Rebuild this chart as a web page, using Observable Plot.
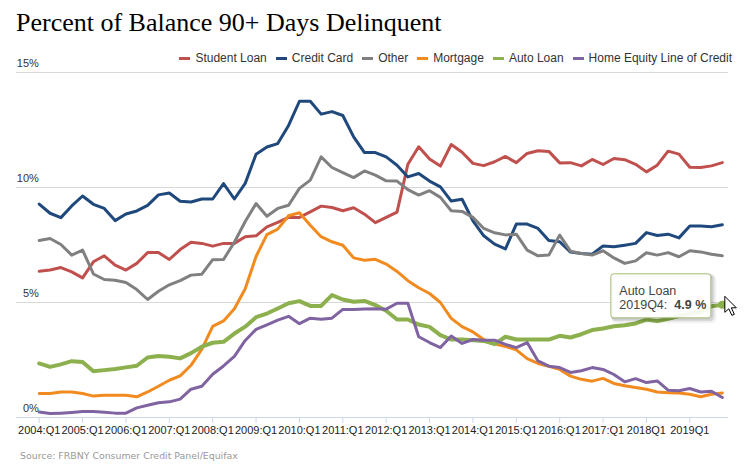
<!DOCTYPE html>
<html><head><meta charset="utf-8">
<script src="https://cdn.jsdelivr.net/npm/d3@7"></script>
<script src="https://cdn.jsdelivr.net/npm/@observablehq/plot@0.6"></script>
<style>
body{margin:0;background:#fff;}
#wrap{position:relative;width:748px;height:473px;overflow:hidden;font-family:"Liberation Sans",Arial,sans-serif;}
#title{position:absolute;left:16px;top:8px;font-family:"Liberation Serif",serif;font-size:26px;line-height:normal;color:#000;white-space:nowrap;}
#legend{position:absolute;top:48px;right:16px;height:20px;display:flex;align-items:center;gap:9px;font-size:12px;color:#333;white-space:nowrap;}
.item{display:flex;align-items:center;}
.sym{width:11px;height:3px;margin-right:5px;}
#chart{position:absolute;left:0;top:66px;}
#source{position:absolute;left:20px;top:450px;font-family:"DejaVu Sans",sans-serif;font-size:9.4px;color:#999;white-space:nowrap;}
</style></head>
<body>
<div id="wrap">
  <div id="title">Percent of Balance 90+ Days Delinquent</div>
  <div id="legend"></div>
  <div id="chart"></div>
  <div id="source">Source: FRBNY Consumer Credit Panel/Equifax</div>
</div>
<script>
// ---- data ----
const quarters = [];
for (let y = 2004; y <= 2019; y++) for (let q = 1; q <= 4; q++) quarters.push(y + "Q" + q);

const tickIndex = [0,4,8,12,16,20,24,28,32,36,40,44,48,52,56,60];
const tickLabels = ["2004:Q1","2005:Q1","2006:Q1","2007:Q1","2008:Q1","2009:Q1","2010:Q1","2011:Q1","2012:Q1","2013:Q1","2014:Q1","2015:Q1","2016:Q1","2017:Q1","2018Q1","2019Q1"];
const yTicks = [0,5,10,15];

const seriesNames = ["Student Loan","Credit Card","Other","Mortgage","Auto Loan","Home Equity Line of Credit"];
const seriesColors = ["#c0504d","#1f497d","#808080","#f28b1f","#8db04f","#8064a2"];

const studentLoan = [6.36,6.41,6.52,6.33,6.07,6.77,7.03,6.62,6.41,6.70,
  7.17,7.17,6.87,7.30,7.62,7.57,7.45,7.57,7.57,7.86,
  7.90,8.29,8.48,8.70,8.70,8.94,9.19,9.13,8.99,9.12,
  8.84,8.47,8.70,8.93,11.01,11.77,11.24,10.93,11.87,11.53,
  11.05,10.95,11.12,11.35,11.08,11.48,11.60,11.57,11.07,11.08,
  10.94,11.22,11.00,11.26,11.21,11.01,10.68,10.97,11.58,11.45,
  10.88,10.87,10.94,11.08];
const creditCard = [9.28,8.88,8.69,9.20,9.63,9.27,9.09,8.56,8.85,8.98,
  9.22,9.68,9.76,9.40,9.37,9.50,9.50,10.17,9.50,10.18,
  11.45,11.76,11.91,12.70,13.75,13.75,13.19,13.30,13.13,12.20,
  11.52,11.52,11.33,10.97,10.46,10.61,10.28,10.03,9.41,9.49,
  8.55,7.90,7.54,7.33,8.41,8.41,8.22,7.70,7.64,7.19,
  7.13,7.10,7.46,7.42,7.49,7.57,8.04,7.91,7.97,7.81,
  8.33,8.33,8.29,8.38];
const other = [7.70,7.78,7.52,7.06,7.28,6.24,6.00,5.97,5.87,5.56,
  5.13,5.49,5.77,5.95,6.19,6.23,6.86,6.87,7.62,8.52,
  9.30,8.75,9.09,9.23,9.96,10.32,11.33,10.87,10.65,10.43,
  10.72,10.54,10.29,10.28,9.91,9.67,9.86,9.57,8.99,8.96,
  8.70,8.22,8.03,7.94,7.97,7.28,7.03,7.06,7.93,7.23,
  7.13,7.06,7.25,6.94,6.70,6.81,7.16,7.06,7.17,6.99,
  7.25,7.20,7.10,7.03];
const mortgage = [1.04,1.04,1.11,1.11,1.04,0.93,0.97,0.97,0.97,0.90,
  1.11,1.36,1.62,1.81,2.27,2.97,3.96,4.20,4.73,5.60,
  7.00,7.95,8.19,8.77,8.90,8.36,7.86,7.64,7.49,6.94,
  6.84,6.88,6.67,6.35,5.95,5.64,5.39,5.00,4.31,3.95,
  3.72,3.39,3.20,3.09,2.94,2.56,2.35,2.23,2.09,1.80,
  1.66,1.58,1.70,1.48,1.38,1.30,1.23,1.11,1.08,1.07,
  1.01,0.90,1.01,1.07];
const autoLoan = [2.35,2.20,2.31,2.45,2.41,2.01,2.06,2.11,2.18,2.25,
  2.61,2.67,2.64,2.57,2.80,3.08,3.25,3.29,3.65,3.95,
  4.36,4.52,4.74,4.97,5.06,4.85,4.85,5.32,5.13,5.03,
  5.07,4.89,4.64,4.26,4.26,4.04,3.94,3.58,3.39,3.39,
  3.36,3.33,3.19,3.51,3.39,3.39,3.39,3.39,3.55,3.48,
  3.62,3.80,3.87,3.97,4.01,4.09,4.26,4.19,4.29,4.41,
  4.52,4.59,4.84,4.90];
const heloc = [0.24,0.17,0.19,0.22,0.26,0.26,0.23,0.19,0.19,0.42,
  0.53,0.64,0.68,0.80,1.23,1.36,1.88,2.24,2.66,3.35,
  3.83,4.03,4.23,4.40,4.08,4.32,4.27,4.32,4.70,4.70,
  4.72,4.73,4.71,4.97,4.97,3.51,3.26,3.04,3.54,3.22,
  3.39,3.36,3.36,3.18,3.04,3.26,2.46,2.23,2.17,1.96,
  2.03,2.17,2.09,1.87,1.55,1.69,1.52,1.59,1.19,1.16,
  1.26,1.11,1.14,0.87];

const seriesValues = [studentLoan, creditCard, other, mortgage, autoLoan, heloc];
const hovered = {series: "Auto Loan", quarter: "2019Q4", value: 4.9};

// ---- legend ----
const legend = document.getElementById("legend");
seriesNames.forEach((name, k) => {
  const it = document.createElement("div"); it.className = "item";
  const s = document.createElement("div"); s.className = "sym"; s.style.background = seriesColors[k];
  const t = document.createElement("span"); t.textContent = name;
  it.appendChild(s); it.appendChild(t); legend.appendChild(it);
});

// ---- chart ----
const tables = seriesValues.map((vals, k) => vals.map((v, i) => ({series: seriesNames[k], i, v})));
const hoverIdx = quarters.indexOf(hovered.quarter);
const hoverK = seriesNames.indexOf(hovered.series);

const plot = Plot.plot({
  width: 748, height: 380,
  marginLeft: 16, marginRight: 20, marginTop: 6, marginBottom: 29,
  style: {fontFamily: "'Liberation Sans', Arial, sans-serif", background: "transparent", overflow: "visible"},
  x: {domain: [-2.093, 63.57]},
  y: {domain: [0, 15]},
  marks: [
    Plot.ruleY(yTicks.filter(d => d > 0), {stroke: "#d8d8d8", strokeWidth: 1}),
    Plot.ruleY([0], {stroke: "#ccd6eb", strokeWidth: 1}),
    Plot.axisX({ticks: tickIndex, tickFormat: d => tickLabels[tickIndex.indexOf(d)], tickSize: 6, tickPadding: 3,
      stroke: "#ccd6eb", fill: "#222", fontSize: 11, label: null}),
    Plot.axisY({ticks: yTicks, tickFormat: d => d + "%", tickSize: 0, tickPadding: 0, dx: 22.3, dy: -9.5,
      textAnchor: "end", fill: "#333", fontSize: 11, label: null}),
    ...tables.map((tb, k) => Plot.lineY(tb, {x: "i", y: "v", stroke: seriesColors[k],
      strokeWidth: k === hoverK ? 4 : 3, strokeLinejoin: "round", strokeLinecap: "round"})),
    Plot.dot([{i: hoverIdx, v: hovered.value}], {x: "i", y: "v", r: 4, fill: seriesColors[hoverK], stroke: "none"})
  ]
});
document.getElementById("chart").appendChild(plot);

// ---- tooltip overlay ----
const px = plot.scale("x").apply(hoverIdx);
const py = plot.scale("y").apply(hovered.value);
const svg = d3.select(plot);
const g = svg.append("g").attr("transform", `translate(${px - 111.5},${py - 31})`);
[[3,0.05],[2,0.1],[1,0.15]].forEach(([o, op]) => {
  g.append("rect").attr("x", 0.5 + o).attr("y", 0.5 + o).attr("width", 100).attr("height", 44)
    .attr("rx", 3).attr("fill", "none").attr("stroke", "#000").attr("stroke-opacity", op).attr("stroke-width", o * 2 - 1);
});
g.append("rect").attr("x", 0.5).attr("y", 0.5).attr("width", 100).attr("height", 44).attr("rx", 3)
  .attr("fill", "#fff").attr("fill-opacity", 0.92).attr("stroke", "#a6bd76").attr("stroke-width", 1);
const tx = g.append("text").attr("font-size", 12.5).attr("fill", "#444").attr("text-anchor", "start")
  .attr("font-family", "'Liberation Sans', Arial, sans-serif");
tx.append("tspan").attr("x", 9).attr("y", 21.5).text(hovered.series);
const l2 = tx.append("tspan").attr("x", 9).attr("y", 36);
l2.append("tspan").text(hovered.quarter + ":");
l2.append("tspan").attr("dx", 7).attr("font-weight", "bold").text(hovered.value + " %");

// mouse cursor
svg.append("path").attr("transform", `translate(${px + 3},${py - 8})`)
  .attr("d", "M0,0 L0,16 L4,12.5 L7,19 L9.5,18 L6.5,11.5 L11.5,11.5 Z")
  .attr("fill", "#fff").attr("stroke", "#000").attr("stroke-width", 1).attr("stroke-linejoin", "round");
</script>
</body></html>
